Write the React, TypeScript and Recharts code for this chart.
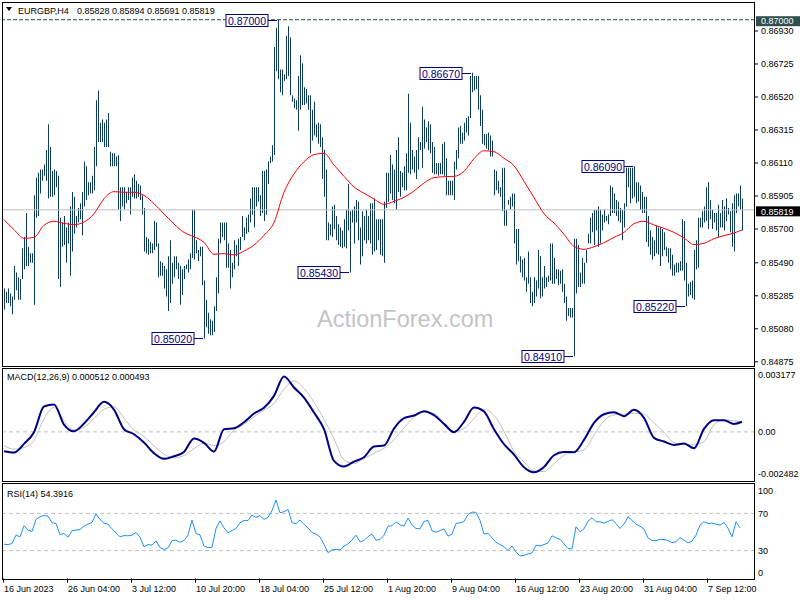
import React from "react";
import { ComposedChart, Bar, Line, XAxis, YAxis, ReferenceLine, ReferenceDot } from "recharts";

const FONT = "'Liberation Sans', Arial, sans-serif";
const PIP = 0.0001;
const MICRO = 0.000001;

// EURGBP H4 bars, oldest first, high / low in pips (0.0001)
const highs = [
  8533, 8531, 8533, 8530, 8528, 8547, 8543, 8540, 8539, 8558,
  8565, 8580, 8559, 8555, 8555, 8591, 8602, 8605, 8607, 8607,
  8610, 8619, 8635, 8621, 8606, 8607, 8606, 8603, 8577, 8574,
  8578, 8571, 8574, 8584, 8593, 8590, 8578, 8583, 8586, 8593,
  8612, 8609, 8599, 8599, 8603, 8621, 8650, 8656, 8636, 8638,
  8636, 8638, 8642, 8618, 8617, 8617, 8615, 8616, 8596, 8596,
  8596, 8593, 8596, 8596, 8602, 8604, 8600, 8598, 8597, 8591,
  8583, 8565, 8564, 8562, 8561, 8575, 8574, 8561, 8550, 8549,
  8547, 8545, 8553, 8563, 8549, 8553, 8553, 8549, 8547, 8545,
  8547, 8548, 8551, 8555, 8582, 8582, 8563, 8557, 8559, 8559,
  8538, 8526, 8518, 8514, 8513, 8522, 8540, 8564, 8574, 8574,
  8574, 8574, 8561, 8557, 8549, 8563, 8560, 8564, 8565, 8578,
  8571, 8577, 8579, 8589, 8596,
  8596, 8596, 8596, 8591, 8606, 8606, 8607, 8612, 8615, 8622,
  8683, 8695, 8700, 8669, 8669, 8666, 8690, 8696, 8689, 8653,
  8651, 8650, 8665, 8678, 8673, 8658, 8657, 8653, 8653, 8644,
  8649, 8635, 8636, 8635, 8627, 8619, 8607, 8574, 8573, 8584,
  8585, 8578, 8573, 8571, 8569, 8576, 8582, 8598, 8581, 8582,
  8584, 8588, 8587, 8571, 8581, 8578, 8582, 8578, 8586, 8586,
  8589, 8576, 8576, 8576, 8576, 8587, 8605, 8605, 8616, 8610,
  8607, 8619, 8627, 8606, 8605, 8609, 8617, 8654, 8636, 8619,
  8615, 8619, 8627, 8624, 8646, 8638, 8633, 8637, 8635, 8624,
  8621, 8611, 8611, 8611, 8623, 8624, 8614, 8600, 8600, 8600,
  8612, 8619, 8633, 8634, 8630, 8636, 8639, 8640, 8665, 8667,
  8665, 8665, 8665, 8653, 8644, 8629, 8629, 8630, 8628, 8625,
  8607, 8606, 8600, 8596, 8608,
  8608, 8582, 8588, 8590, 8592, 8592, 8570, 8570, 8553, 8551,
  8552, 8540, 8556, 8540, 8531, 8540, 8538, 8557, 8553, 8540,
  8547, 8540, 8541, 8561, 8561, 8552, 8545, 8545, 8544, 8545,
  8536, 8528, 8521, 8521, 8521, 8564, 8564, 8560, 8543, 8552,
  8549, 8557, 8567, 8577, 8580, 8582, 8582, 8584, 8582, 8579,
  8582, 8578, 8579, 8597, 8596, 8592, 8588, 8587, 8583, 8582,
  8586, 8608, 8608, 8608, 8608, 8609, 8599, 8599, 8597, 8593,
  8590, 8590, 8578, 8569, 8565, 8563, 8572, 8571, 8571, 8570,
  8568, 8559, 8558, 8558, 8554, 8548, 8549, 8549, 8550, 8576,
  8575, 8549, 8536, 8537, 8538, 8557, 8563, 8577, 8577, 8581,
  8584, 8596, 8599, 8588, 8582, 8580, 8580, 8585, 8580, 8588,
  8584, 8589, 8583, 8581, 8586, 8591, 8592, 8592, 8597, 8589,
];

const lows = [
  8520, 8524, 8524, 8522, 8517, 8526, 8532, 8526, 8526, 8539,
  8545, 8547, 8547, 8549, 8549, 8523, 8577, 8578, 8592, 8600,
  8603, 8600, 8589, 8590, 8590, 8591, 8596, 8539, 8534, 8559,
  8560, 8549, 8561, 8541, 8556, 8567, 8571, 8574, 8576, 8566,
  8584, 8588, 8591, 8592, 8592, 8594, 8609, 8624, 8624, 8624,
  8621, 8621, 8621, 8609, 8609, 8609, 8609, 8582, 8575, 8584,
  8582, 8586, 8588, 8579, 8590, 8589, 8589, 8590, 8588, 8579,
  8556, 8555, 8554, 8555, 8555, 8557, 8559, 8540, 8541, 8541,
  8533, 8528, 8519, 8524, 8536, 8540, 8545, 8539, 8523, 8529,
  8539, 8545, 8543, 8545, 8552, 8551, 8555, 8550, 8553, 8535,
  8502, 8509, 8505, 8504, 8504, 8506, 8519, 8530, 8561, 8565,
  8563, 8546, 8546, 8533, 8540, 8545, 8553, 8547, 8557, 8565,
  8563, 8567, 8568, 8574, 8579,
  8571, 8584, 8587, 8578, 8580, 8575, 8579, 8598, 8611, 8612,
  8616, 8668, 8663, 8655, 8653, 8662, 8663, 8665, 8653, 8649,
  8645, 8644, 8631, 8644, 8647, 8647, 8648, 8644, 8617, 8625,
  8628, 8627, 8623, 8621, 8601, 8590, 8563, 8563, 8566, 8565,
  8570, 8563, 8560, 8559, 8558, 8559, 8558, 8569, 8543, 8574,
  8561, 8574, 8563, 8548, 8553, 8563, 8561, 8563, 8561, 8554,
  8556, 8557, 8563, 8554, 8553, 8549, 8583, 8587, 8592, 8588,
  8586, 8582, 8593, 8590, 8596, 8594, 8594, 8605, 8604, 8607,
  8605, 8601, 8607, 8619, 8608, 8620, 8624, 8619, 8617, 8605,
  8604, 8604, 8603, 8604, 8604, 8603, 8591, 8591, 8591, 8591,
  8588, 8607, 8614, 8623, 8623, 8625, 8630, 8628, 8639, 8655,
  8656, 8657, 8644, 8634, 8623, 8622, 8620, 8619, 8615, 8615,
  8591, 8594, 8592, 8590, 8581,
  8572, 8572, 8585, 8582, 8584, 8561, 8548, 8550, 8543, 8540,
  8538, 8531, 8536, 8524, 8522, 8524, 8528, 8533, 8527, 8528,
  8533, 8534, 8537, 8538, 8536, 8536, 8539, 8535, 8536, 8531,
  8524, 8513, 8516, 8515, 8515, 8491, 8530, 8534, 8534, 8536,
  8536, 8549, 8561, 8561, 8568, 8560, 8569, 8559, 8561, 8569,
  8574, 8575, 8573, 8578, 8580, 8580, 8578, 8575, 8574, 8563,
  8571, 8584, 8596, 8586, 8589, 8590, 8586, 8587, 8582, 8580,
  8580, 8562, 8559, 8554, 8551, 8553, 8555, 8554, 8547, 8553,
  8557, 8553, 8549, 8545, 8541, 8541, 8543, 8543, 8544, 8544,
  8538, 8522, 8528, 8529, 8527, 8526, 8545, 8546, 8571, 8571,
  8574, 8575, 8570, 8576, 8570, 8574, 8569, 8565, 8571, 8571,
  8569, 8575, 8579, 8568, 8559, 8556, 8580, 8584, 8582, 8569,
];

// red moving average, read every 5 bars, pips
const maSamples = [
  8575.8, 8569.6, 8564.2, 8564.8, 8572.3, 8574.8, 8573.5, 8572.7, 8574.3, 8579.5,
  8588.8, 8593.2, 8592.8, 8592.8, 8590.9, 8585.7, 8579.3, 8573.1, 8567.9, 8565.2,
  8561.7, 8554.3, 8554.7, 8553.9, 8556.3,
  8560.1, 8566.1, 8574.1, 8592.8, 8604.2, 8611.8, 8616.2, 8617.0, 8609.7, 8602.7,
  8596.1, 8592.2, 8588.6, 8585.3, 8587.2, 8589.7, 8593.6, 8598.6, 8601.9, 8602.5,
  8602.7, 8605.8, 8613.7, 8618.6, 8618.0,
  8613.9, 8609.3, 8599.6, 8589.5, 8579.5, 8573.7, 8566.7, 8559.2, 8557.4, 8559.0,
  8561.5, 8564.8, 8567.9, 8573.3, 8574.8, 8572.5, 8570.4, 8567.9, 8564.4, 8560.3,
  8561.1, 8564.0, 8565.9, 8567.5, 8569.4,
];

// MACD(12,26,9) main and signal, read every 5 bars, millionths
const macdSamples = [
  -977, -1044, -606, -17, 1280, 1381, 371, 34, 421, 994,
  1516, 1128, 135, -118, -539, -1078, -1364, -1229, -1011, -337,
  -556, -994, 135, 185, 488, 926, 1213, 1819, 2796, 2240,
  1735, 977, 135, -1465, -1752, -1499, -1280, -741, -691, 168,
  691, 825, 1044, 842, 404, -17, 505, 1229, 1027, 135,
  -623, -1145, -1785, -2038, -1769, -1179, -1011, -1027, -404, 455,
  893, 994, 792, 1112, 707, -303, -488, -657, -589, -825,
  152, 589, 589, 404, 512,
];

const signalSamples = [
  -691, -876, -792, -421, 657, 1229, 573, 101, 236, 674,
  1145, 1263, 691, 101, -236, -707, -1128, -1314, -1196, -842,
  -573, -691, -488, 84, 387, 758, 1095, 1432, 2156, 2577,
  2190, 1499, 640, -354, -1415, -1600, -1348, -1078, -825, -387,
  202, 724, 994, 926, 455, 34, 168, 674, 1128, 842,
  34, -977, -1516, -1971, -2004, -1600, -1179, -1027, -910, -168,
  556, 859, 893, 943, 893, 455, -17, -539, -640, -657,
  -488, 354, 606, 556, 493,
];

// RSI(14), read every 2 bars
const rsiSamples = [
  36.8, 36.5, 37.6, 46.6, 44.8, 56.7, 52.0, 50.5, 63.5, 66.4,
  67.8, 67.1, 59.9, 59.2, 47.3, 48.4, 44.4, 51.3, 52.0, 52.7,
  56.3, 58.5, 60.3, 69.3, 63.5, 59.5, 58.5, 53.4, 49.1, 44.8,
  46.2, 45.9, 46.6, 49.5, 44.4, 34.0, 36.5, 35.8, 40.4, 33.2,
  31.1, 32.9, 40.8, 41.2, 39.0, 40.8, 46.6, 62.8, 48.4, 46.9,
  35.0, 33.2, 33.6, 53.8, 61.7, 54.5, 49.1, 51.6, 53.8, 59.9,
  62.4, 62.4, 68.2, 65.7, 67.5, 63.5, 65.7, 72.9, 84.4, 70.7,
  71.8, 74.3, 59.9, 59.2, 62.8, 58.1, 54.5, 49.5, 47.7, 44.8,
  36.5, 27.8, 30.7, 31.4, 30.7, 34.7, 37.2, 41.2, 46.6, 39.4,
  40.8, 45.1, 47.7, 41.2, 41.9, 46.6, 56.3, 56.7, 61.0, 57.7,
  56.3, 65.0, 57.7, 53.8, 53.4, 61.4, 62.4, 51.3, 49.8, 51.6,
  53.4, 45.5, 47.7, 59.2, 59.9, 61.4, 68.6, 71.4, 71.1, 62.4,
  47.7, 48.7, 43.7, 39.0, 36.5, 34.3, 30.0, 35.0, 28.6, 24.2,
  25.0, 26.4, 27.5, 35.8, 35.0, 36.5, 38.3, 45.9, 43.7, 42.2,
  37.2, 32.2, 31.8, 55.6, 50.2, 53.4, 61.7, 65.3, 61.0, 61.0,
  59.5, 61.4, 63.2, 59.2, 53.8, 58.5, 66.4, 62.4, 58.5, 56.3,
  53.1, 43.7, 40.8, 40.8, 42.2, 41.9, 40.8, 38.6, 39.4, 44.1,
  41.2, 38.3, 40.1, 46.6, 57.4, 61.0, 59.2, 59.5, 58.5, 57.4,
  60.3, 54.1, 44.8, 61.0, 54.4,
];

const priceTicks = [0.87, 0.8693, 0.86725, 0.8652, 0.86315, 0.8611, 0.85905, 0.85819, 0.857, 0.8549, 0.85285, 0.8508, 0.84875];
const boxedPrices = [0.87, 0.85819];
const macdTicks = [0.003177, 0, -0.002482];
const macdTickLabels = ["0.003177", "0.00", "-0.002482"];
const rsiTicks = [100, 70, 30, 0];
const rsiLevels = [70, 30];

const timeTickBars = [0, 32, 64, 96, 128, 160, 192, 224, 256, 288, 320, 352];
const timeLabels = [
  "16 Jun 2023", "26 Jun 04:00", "3 Jul 12:00", "10 Jul 20:00", "18 Jul 04:00", "25 Jul 12:00",
  "1 Aug 20:00", "9 Aug 04:00", "16 Aug 12:00", "23 Aug 20:00", "31 Aug 04:00", "7 Sep 12:00",
];

const flagBars = [100, 137, 173, 234, 285, 315, 341];
const flagPrices = [0.8502, 0.87, 0.8543, 0.8667, 0.8491, 0.8609, 0.8522];

const levelLine = 0.87;
const lastClose = 0.85819;
const priceRange = [0.84849, 0.8711];
const macdRange = [-0.002482, 0.003177];

const ROWS = 376;
const lastBar = highs.length - 1;

const rows: any[] = Array.from({ length: ROWS }, (_, i) => ({
  i,
  hl: i <= lastBar ? [lows[i] * PIP, highs[i] * PIP] : null,
  ma: null,
  macd: null,
  signal: null,
  rsi: null,
}));
maSamples.forEach((v, k) => (rows[Math.min(k * 5, lastBar)].ma = v * PIP));
macdSamples.forEach((v, k) => (rows[Math.min(k * 5, lastBar)].macd = v * MICRO));
signalSamples.forEach((v, k) => (rows[Math.min(k * 5, lastBar)].signal = v * MICRO));
rsiSamples.forEach((v, k) => (rows[Math.min(k * 2, lastBar)].rsi = v));

const MARGIN_LEFT = 3;
const AXIS_W = 45;

function PriceTick({ x, y, payload }: any) {
  const v = payload.value;
  const label = v.toFixed(5);
  if (boxedPrices.includes(v)) {
    const bg = v === levelLine ? "#2f4f4f" : "#000";
    return (
      <g>
        <rect x={x + 1} y={y - 3.5} width={45} height={10} fill={bg} />
        <text x={x + 6} y={y + 4.7} fontSize={9} fontFamily={FONT} fill="#fff">
          {label}
        </text>
      </g>
    );
  }
  return (
    <g>
      <line x1={x} x2={x + 3} y1={y} y2={y} stroke="#000" />
      <text x={x + 6} y={y + 3.2} fontSize={9} fontFamily={FONT} fill="#000">
        {label}
      </text>
    </g>
  );
}

function MacdTick({ x, y, payload }: any) {
  const k = macdTicks.indexOf(payload.value);
  const shift = k === 0 ? 6 : k === 2 ? -7 : 0;
  return (
    <text x={x + 3} y={y + shift + 3.2} fontSize={9} fontFamily={FONT} fill="#000">
      {macdTickLabels[k]}
    </text>
  );
}

function RsiTick({ x, y, payload }: any) {
  const v = payload.value;
  const shift = v === 100 ? 5.5 : v === 0 ? -5.5 : 0;
  return (
    <text x={x + 3} y={y + shift + 3.2} fontSize={9} fontFamily={FONT} fill="#000">
      {v}
    </text>
  );
}

function TimeTick({ x, y, payload }: any) {
  const k = timeTickBars.indexOf(payload.value);
  const tx = Math.floor(x) - 0.5;
  return (
    <g>
      <line x1={tx} x2={tx} y1={y} y2={y + 4} stroke="#000" />
      <text x={tx + 0.5} y={y + 13.5} fontSize={9} fontFamily={FONT} fill="#000">
        {timeLabels[k]}
      </text>
    </g>
  );
}

function Flag({ cx, cy, text }: any) {
  const bx = Math.floor(cx) - 1;
  const right = bx - 9;
  const y = Math.round(cy) + 0.5;
  return (
    <g>
      <line x1={right} y1={y} x2={bx} y2={y} stroke="#000080" />
      <rect x={right - 42} y={y - 6} width={42} height={12} fill="#fff" stroke="#000080" />
      <text x={right - 21} y={y + 4} textAnchor="middle" fontSize={10.5} fontFamily={FONT} fill="#000080">
        {text}
      </text>
    </g>
  );
}

export default function App() {
  return (
    <div style={{ position: "absolute", left: 0, top: 0, width: 800, height: 600, background: "#fff", fontFamily: FONT }}>
      <svg width={800} height={600} style={{ position: "absolute", left: 0, top: 0 }}>
        <text x={317} y={327} fontSize={23.5} fontFamily={FONT} fill="#c4c4c4">
          ActionForex.com
        </text>
      </svg>

      <div style={{ position: "absolute", left: 0, top: 0 }}>
        <ComposedChart width={800} height={367} data={rows} margin={{ top: 2, right: 0, bottom: 1, left: MARGIN_LEFT }}>
          <XAxis dataKey="i" scale="band" hide />
          <YAxis
            orientation="right"
            type="number"
            width={AXIS_W}
            domain={priceRange}
            allowDataOverflow
            ticks={priceTicks}
            interval={0}
            tick={PriceTick}
            tickLine={false}
            axisLine={false}
            tickSize={0}
            tickMargin={0}
          />
          <ReferenceLine y={lastClose} stroke="#c0c0c0" />
          <ReferenceLine y={levelLine} stroke="#2f4f4f" strokeDasharray="4 2" />
          <Bar dataKey="hl" fill="#0f3b5a" barSize={1} isAnimationActive={false} />
          <Line dataKey="ma" type="monotone" stroke="#ff0000" strokeWidth={1} dot={false} connectNulls isAnimationActive={false} />
          {flagBars.map((b, k) => (
            <ReferenceDot
              key={k}
              x={b}
              y={flagPrices[k]}
              shape={(p: any) => <Flag cx={p.cx} cy={p.cy} text={flagPrices[k].toFixed(5)} />}
            />
          ))}
        </ComposedChart>
      </div>

      <div style={{ position: "absolute", left: 0, top: 368 }}>
        <ComposedChart width={800} height={114} data={rows} margin={{ top: 1, right: 0, bottom: 1, left: MARGIN_LEFT }}>
          <XAxis dataKey="i" scale="band" hide />
          <YAxis
            orientation="right"
            type="number"
            width={AXIS_W}
            domain={macdRange}
            allowDataOverflow
            ticks={macdTicks}
            interval={0}
            tick={MacdTick}
            tickLine={false}
            axisLine={false}
            tickSize={0}
            tickMargin={0}
          />
          <ReferenceLine y={0} stroke="#c0c0c0" strokeDasharray="4 3" />
          <Line dataKey="signal" type="monotone" stroke="#c0c0c0" strokeWidth={1} dot={false} connectNulls isAnimationActive={false} />
          <Line dataKey="macd" type="monotone" stroke="#000080" strokeWidth={2} dot={false} connectNulls isAnimationActive={false} />
        </ComposedChart>
      </div>

      <div style={{ position: "absolute", left: 0, top: 483 }}>
        <ComposedChart width={800} height={117} data={rows} margin={{ top: 2.5, right: 0, bottom: 0, left: MARGIN_LEFT }}>
          <XAxis
            dataKey="i"
            scale="band"
            ticks={timeTickBars}
            interval={0}
            tick={TimeTick}
            tickLine={false}
            axisLine={false}
            tickSize={0}
            tickMargin={0}
            height={21.5}
          />
          <YAxis
            orientation="right"
            type="number"
            width={AXIS_W}
            domain={[0, 100]}
            allowDataOverflow
            ticks={rsiTicks}
            interval={0}
            tick={RsiTick}
            tickLine={false}
            axisLine={false}
            tickSize={0}
            tickMargin={0}
          />
          {rsiLevels.map((lv) => (
            <ReferenceLine key={lv} y={lv} stroke="#c0c0c0" strokeDasharray="4 3" />
          ))}
          <Line dataKey="rsi" type="linear" stroke="#1e90ff" strokeWidth={1} dot={false} connectNulls isAnimationActive={false} />
        </ComposedChart>
      </div>

      <svg width={800} height={600} style={{ position: "absolute", left: 0, top: 0, pointerEvents: "none" }}>
        <rect x={2.5} y={2.5} width={752} height={364} fill="none" stroke="#000" />
        <rect x={2.5} y={368.5} width={752} height={113} fill="none" stroke="#000" />
        <rect x={2.5} y={483.5} width={752} height={96} fill="none" stroke="#000" />
        <polygon points="6,7 12,7 9,11" fill="#000" />
        <text x={18} y={14} fontSize={9} fontFamily={FONT} fill="#000">
          EURGBP,H4
        </text>
        <text x={77} y={14} fontSize={9} fontFamily={FONT} fill="#000">
          0.85828 0.85894 0.85691 0.85819
        </text>
        <text x={7} y={380} fontSize={9} fontFamily={FONT} fill="#000">
          MACD(12,26,9) 0.000512 0.000493
        </text>
        <text x={7} y={497} fontSize={9} fontFamily={FONT} fill="#000">
          RSI(14) 54.3916
        </text>
      </svg>
    </div>
  );
}
